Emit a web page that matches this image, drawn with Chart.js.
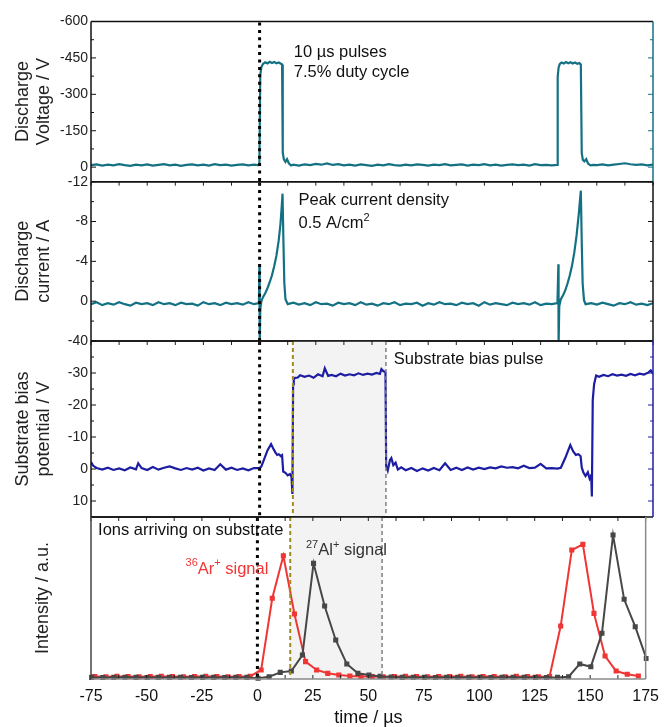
<!DOCTYPE html>
<html>
<head>
<meta charset="utf-8">
<script src="https://cdn.jsdelivr.net/npm/chart.js@4.4.0/dist/chart.umd.min.js"></script>
<style>
  body { margin: 0; background: #fff; }
  #wrap { position: relative; width: 667px; height: 727px; }
  #wrap canvas { position: absolute; left: 0; top: 0; }
</style>
</head>
<body>
<div id="wrap">
  <canvas id="c1" width="667" height="727"></canvas>
  <canvas id="c2" width="667" height="727"></canvas>
  <canvas id="c3" width="667" height="727"></canvas>
  <canvas id="c4" width="667" height="727"></canvas>
</div>
<script>
// ---- data ----
// shared time axis (µs)
var xMajor = [-75, -50, -25, 0, 25, 50, 75, 100, 125, 150, 175];
var xMinor = [-62.5, -37.5, -12.5, 12.5, 37.5, 62.5, 87.5, 112.5, 137.5, 162.5];

// pulse start and substrate bias window
var pulseStart = 0;
var biasOn = 14.8;
var biasOff = 56.2;

// panel 1 : discharge voltage
var vTicks = [-600, -450, -300, -150, 0];
var vMinor = [-525, -375, -225, -75];
var vTime = [-75,-72.5,-70,-67.5,-65,-62.5,-60,-57.5,-55,-52.5,-50,-47.5,-45,-42.5,-40,-37.5,-35,-32.5,-30,-27.5,-25,-22.5,-20,-17.5,-15,-12.5,-10,-7.5,-5,-2.5,-0.5,
  -0.1,0.3,0.8,1.5,2.5,3.5,4.5,5.5,6.5,7.5,8.5,9.5,10.0,10.3,10.8,11.5,12.2,13,14,15,
  17.5,20,22.5,25,27.5,30,32.5,35,37.5,40,42.5,45,47.5,50,52.5,55,57.5,60,62.5,65,67.5,70,72.5,75,77.5,80,82.5,85,87.5,90,92.5,95,97.5,100,102.5,105,107.5,110,112.5,115,117.5,120,122.5,125,127.5,130,132.3,
  132.6,133.0,133.5,134.3,135.3,136.3,137.3,138.3,139.3,140.3,141.3,142.3,142.9,143.3,143.8,144.5,145.3,146.1,147.2,148.5,
  150,152.5,155,157.5,160,162.5,165,167.5,170,172.5,175];
var vVolt = [-8,-11,-6,-10,-7,-12,-8,-5,-10,-7,-11,-6,-9,-12,-7,-10,-5,-9,-11,-7,-10,-6,-12,-8,-10,-6,-9,-11,-7,-10,-8,
  -9,-380,-412,-425,-432,-427,-434,-429,-433,-428,-431,-426,-423,-60,-32,-22,-33,-16,-7,-10,
  -6,-11,-8,-13,-10,-15,-9,-12,-7,-10,-6,-11,-8,-5,-10,-7,-12,-8,-6,-10,-7,-11,-9,-6,-10,-8,-12,-7,-9,-11,-6,-10,-8,-12,-7,-10,-6,-9,-11,-8,-10,-6,-12,-8,-9,-7,-9,
  -372,-410,-424,-431,-427,-433,-428,-432,-427,-431,-426,-429,-422,-58,-30,-24,-33,-15,-7,-9,
  -8,-11,-7,-10,-13,-16,-12,-9,-11,-7,-10];

// panel 2 : discharge current
var cTicks = [-12, -8, -4, 0];
var cMinor = [-10, -6, -2, 2];
var cTime = [-75,-72.5,-70,-67.5,-65,-62.5,-60,-57.5,-55,-52.5,-50,-47.5,-45,-42.5,-40,-37.5,-35,-32.5,-30,-27.5,-25,-22.5,-20,-17.5,-15,-12.5,-10,-7.5,-5,-2.5,-0.3,
  -0.1,0.05,0.3,0.8,1.5,2.5,3.5,4.5,5.5,6.5,7.5,8.5,9.3,9.9,10.2,10.6,11.0,11.5,12.5,15,
  17.5,20,22.5,25,27.5,30,32.5,35,37.5,40,42.5,45,47.5,50,52.5,55,57.5,60,62.5,65,67.5,70,72.5,75,77.5,80,82.5,85,87.5,90,92.5,95,97.5,100,102.5,105,107.5,110,112.5,115,117.5,120,122.5,125,127.5,130,132.5,
  132.9,133.0,133.3,134,135,136,137,138,139,140,141,142,142.9,143.3,143.7,144.3,145,147.5,
  150,152.5,155,157.5,160,162.5,165,167.5,170,172.5,175];
var cAmp = [0.3,0.1,0.4,0.2,0.35,0.1,0.3,0.45,0.15,0.3,0.2,0.4,0.1,0.3,0.2,0.4,0.15,0.3,0.25,0.45,0.1,0.3,0.2,0.4,0.15,0.3,0.2,0.35,0.1,0.3,0.2,
  -3.6,4.5,0.8,0.0,-0.4,-0.8,-1.3,-1.9,-2.6,-3.5,-4.6,-6.1,-7.8,-9.7,-10.8,-6.0,-1.8,-0.2,0.3,0.15,
  0.35,0.2,0.4,0.1,0.3,0.25,0.45,0.15,0.3,0.2,0.4,0.1,0.35,0.25,0.45,0.2,0.3,0.1,0.4,0.25,0.3,0.15,0.45,0.2,0.35,0.1,0.3,0.25,0.4,0.15,0.3,0.2,0.45,0.1,0.35,0.2,0.3,0.4,0.15,0.3,0.2,0.35,0.1,0.4,0.25,0.3,0.2,
  -3.7,4.5,0.5,-0.2,-0.6,-1.1,-1.8,-2.6,-3.6,-4.9,-6.6,-8.8,-11.1,-6.0,-1.8,-0.1,0.3,0.2,
  0.35,0.15,0.3,0.45,0.2,0.3,0.1,0.35,0.25,0.4,0.2];

// panel 3 : substrate bias potential
var bTicks = [-40, -30, -20, -10, 0, 10];
var bMinor = [-35, -25, -15, -5, 5];
var bTime = [-75,-74,-72.5,-70,-67.5,-65,-62.5,-60,-57.5,-55,-54,-52.5,-50,-47.5,-45,-42.5,-40,-37.5,-35,-32.5,-30,-27.5,-25,-22.5,-20,-17.5,-15,-12.5,-10,-7.5,-5,-2.5,0,
  0.8,2,3.5,5.1,6,7,7.8,8.5,9.5,10,10.5,11.5,12.5,13.5,14.2,14.6,14.9,15.2,15.8,17,18,20,22,24,26,28,29,30.5,32,34,36,38,40,42,44,46,48,50,52,53.5,54.2,55,56,
  56.3,57,58,58.6,59.5,60.5,61.5,63,65,67.5,70,72.5,75,77.5,80,82.5,85,87.5,90,92.5,95,97.5,100,102.5,105,107.5,110,112.5,115,117.5,120,122.5,125,127.5,130,132.5,134,
  136,138.2,139.5,140.7,141.8,142.8,143.3,144,145,146,146.8,147.5,147.8,148.2,148.8,149.7,151,153,155,157,159,161,163,165,167,169,171,173,174,175];
var bVolt = [-2.2,-1.0,-0.3,0.2,-0.4,0.3,-0.2,0.4,-0.5,0.1,-1.8,-0.3,0.3,-0.6,0.2,-0.4,-0.8,-0.2,0.3,-0.3,0.2,-0.4,0.5,-0.2,0.3,-1.5,0.2,-0.4,0.3,-0.2,0.4,-0.3,-0.3,
  -0.8,-3.0,-5.8,-7.8,-6.5,-5.2,-4.4,-4.6,-4.0,-4.3,0.8,1.2,2.0,1.6,2.5,7.8,-26.5,-28.0,-28.5,-28.6,-29.3,-28.8,-29.2,-28.5,-29.6,-29.0,-31.5,-29.1,-29.4,-29.0,-29.8,-29.2,-29.6,-29.3,-29.9,-29.4,-29.8,-29.5,-30.0,-29.7,-31.2,-30.6,-30.2,
  -1.0,0.5,-2.8,-3.4,-1.2,-2.0,0.2,-0.5,0.4,-0.3,0.6,-0.2,0.5,-0.3,0.4,-1.8,0.3,-0.4,0.3,-0.5,0.2,-0.4,0.0,-0.5,-0.2,-0.8,-0.4,-0.6,-0.2,-1.0,-0.3,-0.4,-1.6,-0.2,-0.3,-0.1,-0.4,
  -3.5,-7.5,-5.5,-4.4,-4.6,-4.0,-0.5,1.0,2.2,1.0,3.0,2.0,8.6,-21.6,-26.5,-29.2,-28.8,-29.4,-29.0,-29.6,-29.2,-29.5,-29.1,-29.7,-29.3,-29.8,-29.5,-30.2,-30.8,-29.8];

// panel 4 : ion signals (a.u.)
var arTime = [-73.3,-68.3,-63.3,-58.3,-53.3,-48.3,-43.3,-38.3,-33.3,-28.3,-23.3,-18.3,-13.3,-8.3,-3.3,
  1.7,6.7,11.7,16.7,21.7,26.7,31.7,36.7,41.7,46.7,
  51.7,56.7,61.7,66.7,71.7,76.7,81.7,86.7,91.7,96.7,101.7,106.7,111.7,116.7,121.7,126.7,131.7,
  136.7,141.7,146.7,151.7,156.7,161.7,166.7,171.7];
var arSignal = [1.5,1.4,1.6,1.5,1.4,1.5,1.6,1.5,1.4,1.5,1.6,1.5,1.4,1.5,1.6,
  5.6,49.8,76.1,40.1,10.7,5.6,3.5,2.5,1.9,1.6,
  1.5,1.4,1.5,1.6,1.5,1.4,1.5,1.5,1.6,1.4,1.5,1.5,1.4,1.6,1.5,1.4,1.5,
  32.7,79.6,83.1,40.5,14.2,4.9,2.9,1.9];
var alTime = [-74.7,-69.7,-64.7,-59.7,-54.7,-49.7,-44.7,-39.7,-34.7,-29.7,-24.7,-19.7,-14.7,-9.7,-4.7,
  0.3,5.3,10.3,15.3,20.3,25.3,30.3,35.3,40.3,45.3,50.3,55.3,
  60.3,65.3,70.3,75.3,80.3,85.3,90.3,95.3,100.3,105.3,110.3,115.3,120.3,125.3,130.3,135.3,
  140.3,145.3,150.3,155.3,160.3,165.3,170.3,175.3];
var alSignal = [1.0,0.9,1.0,1.1,1.0,0.9,1.0,1.0,1.1,0.9,1.0,1.0,0.9,1.0,1.0,
  0.5,1.4,4.1,4.9,14.8,71.4,45.1,24.1,9.3,3.5,2.5,1.6,
  1.2,1.0,1.1,1.0,0.9,1.0,1.1,1.0,1.0,0.9,1.0,1.1,1.0,1.0,0.9,1.0,
  1.4,9.3,7.6,28.2,88.9,49.2,32.3,12.7];

// ---- look ----
var FONT = "'Liberation Sans', Arial, Helvetica, sans-serif";
var TEAL = '#137183';
var BLUE = '#1d1da3';
var RED = '#f03535';
var GREY = '#474747';

function pts(xs, ys) {
  var out = [];
  for (var i = 0; i < xs.length; i++) out.push({ x: xs[i], y: ys[i] });
  return out;
}

function line(ctx, x1, y1, x2, y2) {
  ctx.beginPath(); ctx.moveTo(x1, y1); ctx.lineTo(x2, y2); ctx.stroke();
}

// box round each panel with inward ticks
var framePlugin = {
  id: 'frame',
  afterDraw: function(chart, args, o) {
    var ctx = chart.ctx, a = chart.chartArea, sx = chart.scales.x, sy = chart.scales.y;
    ctx.save();
    ctx.lineWidth = 1;
    ctx.strokeStyle = '#222';
    xMajor.concat(xMinor).forEach(function(v) {
      var px = sx.getPixelForValue(v);
      if (o.topTicks) line(ctx, px, a.top, px, a.top + 4);
      if (o.bottomTicks) line(ctx, px, a.bottom, px, a.bottom - 4);
    });
    [[o.yMajor, 5], [o.yMinor, 3]].forEach(function(set) {
      set[0].forEach(function(v) {
        var py = sy.getPixelForValue(v);
        ctx.strokeStyle = o.leftColor;
        line(ctx, a.left, py, a.left + set[1], py);
        ctx.strokeStyle = o.rightColor;
        line(ctx, a.right, py, a.right - set[1], py);
      });
    });
    ctx.lineWidth = 1.5;
    ctx.strokeStyle = '#111';
    line(ctx, a.left, a.top, a.right, a.top);
    ctx.strokeStyle = o.bottomColor;
    line(ctx, a.left, a.bottom, a.right, a.bottom);
    ctx.strokeStyle = o.leftColor;
    line(ctx, a.left, a.top, a.left, a.bottom);
    ctx.strokeStyle = o.rightColor;
    line(ctx, a.right, a.top, a.right, a.bottom);
    ctx.restore();
  }
};

// pulse start line, bias window shading and its edges
var markPlugin = {
  id: 'marks',
  beforeDatasetsDraw: function(chart, args, o) {
    if (!o.shade) return;
    var ctx = chart.ctx, a = chart.chartArea, sx = chart.scales.x;
    var x1 = sx.getPixelForValue(biasOn), x2 = sx.getPixelForValue(biasOff);
    ctx.save();
    ctx.fillStyle = '#f3f3f3';
    ctx.fillRect(x1, a.top, x2 - x1, a.bottom - a.top);
    ctx.restore();
  },
  afterDatasetsDraw: function(chart, args, o) {
    var ctx = chart.ctx, a = chart.chartArea, sx = chart.scales.x;
    ctx.save();
    if (o.shade) {
      ctx.setLineDash([4, 3]);
      ctx.lineWidth = 2;
      ctx.strokeStyle = '#a08c1e';
      var x1 = sx.getPixelForValue(biasOn);
      line(ctx, x1, a.top, x1, a.bottom);
      ctx.lineWidth = 1.5;
      ctx.strokeStyle = '#808080';
      var x2 = sx.getPixelForValue(biasOff);
      line(ctx, x2, a.top, x2, a.bottom);
    }
    ctx.setLineDash([3, 4.4]);
    ctx.lineWidth = 3;
    ctx.strokeStyle = '#000';
    var x0 = sx.getPixelForValue(pulseStart);
    line(ctx, x0, a.top + 1, x0, a.bottom);
    ctx.restore();
  }
};

// text notes, with superscripts
var notePlugin = {
  id: 'notes',
  afterDraw: function(chart, args, o) {
    var ctx = chart.ctx, sx = chart.scales.x, sy = chart.scales.y;
    ctx.save();
    ctx.textBaseline = 'middle';
    ctx.textAlign = 'left';
    (o.items || []).forEach(function(n) {
      var x = sx.getPixelForValue(n.x), y = sy.getPixelForValue(n.y);
      ctx.fillStyle = n.color || '#111';
      n.parts.forEach(function(p) {
        var sup = p[1] === true;
        ctx.font = (sup ? '11px ' : '16.5px ') + FONT;
        ctx.fillText(p[0], x, sup ? y - 6 : y);
        x += ctx.measureText(p[0]).width;
      });
    });
    ctx.restore();
  }
};

function makePanel(id, top, bottom, yMin, yMax, reverse, yTicks, yMinor, yTitle, titlePad, datasets, frame, notes, shade, last) {
  var xAxis = { type: 'linear', min: -75, max: 175, display: false };
  if (last) {
    xAxis = {
      type: 'linear', min: -75, max: 175,
      afterBuildTicks: function(axis) { axis.ticks = xMajor.map(function(v) { return { value: v }; }); },
      afterFit: function(axis) { axis.height = 727 - bottom; },
      grid: { display: false, drawTicks: false },
      border: { display: false },
      ticks: { font: { family: FONT, size: 16 }, color: '#111', padding: 8, maxRotation: 0, autoSkip: false },
      title: { display: true, text: 'time / µs', font: { family: FONT, size: 18, lineHeight: 1 }, color: '#111', padding: { top: 0, bottom: 0 } }
    };
  }
  new Chart(document.getElementById(id), {
    type: 'line',
    data: { datasets: datasets },
    options: {
      responsive: false,
      animation: false,
      devicePixelRatio: 1,
      layout: { padding: { top: top, bottom: last ? 0 : 727 - bottom, left: 0, right: 14 } },
      plugins: {
        legend: { display: false },
        tooltip: { enabled: false },
        frame: frame,
        marks: { shade: shade },
        notes: { items: notes }
      },
      scales: {
        x: xAxis,
        y: {
          type: 'linear', min: yMin, max: yMax, reverse: reverse,
          afterBuildTicks: function(axis) { axis.ticks = yTicks.map(function(v) { return { value: v }; }); },
          afterFit: function(axis) { axis.width = 91; },
          grid: { display: false, drawTicks: false },
          border: { display: false },
          ticks: { display: yTicks.length > 0, font: { family: FONT, size: 14 }, color: '#222', padding: 3 },
          title: { display: true, text: yTitle, font: { family: FONT, size: 18 }, color: '#222', padding: { top: titlePad, bottom: 0 } }
        }
      }
    },
    plugins: [framePlugin, markPlugin, notePlugin]
  });
}

function trace(xs, ys, color) {
  return { data: pts(xs, ys), borderColor: color, borderWidth: 2.2, pointRadius: 0, tension: 0, fill: false, clip: 0 };
}
function signal(xs, ys, color) {
  return { data: pts(xs, ys), borderColor: color, backgroundColor: color, borderWidth: 2, pointStyle: 'rect',
    pointRadius: 3.6, pointBorderWidth: 0, tension: 0, fill: false, clip: 3 };
}

// panel 1
makePanel('c1', 21.5, 181.7, -600, 60, true, vTicks, vMinor, ['Discharge', 'Voltage / V'], 12,
  [trace(vTime, vVolt, TEAL)],
  { topTicks: false, bottomTicks: false, yMajor: vTicks, yMinor: vMinor, leftColor: '#111', rightColor: TEAL, bottomColor: '#111' },
  [{ x: 15.2, y: -471, parts: [['10 µs pulses']] }, { x: 15.2, y: -389, parts: [['7.5% duty cycle']] }],
  false, false);

// panel 2
makePanel('c2', 181.7, 341, -12, 4, true, cTicks, cMinor, ['Discharge', 'current / A'], 12,
  [trace(cTime, cAmp, TEAL)],
  { topTicks: true, bottomTicks: false, yMajor: cTicks, yMinor: cMinor, leftColor: '#111', rightColor: '#111', bottomColor: '#111' },
  [{ x: 17.3, y: -10.1, parts: [['Peak current density']] }, { x: 17.3, y: -7.8, parts: [['0.5 A/cm'], ['2', true]] }],
  false, false);

// panel 3
makePanel('c3', 341, 517, -40, 15, true, bTicks, bMinor, ['Substrate bias', 'potential / V'], 12,
  [trace(bTime, bVolt, BLUE)],
  { topTicks: true, bottomTicks: false, yMajor: bTicks, yMinor: bMinor, leftColor: '#111', rightColor: BLUE, bottomColor: '#111' },
  [{ x: 59.7, y: -34.1, parts: [['Substrate bias pulse']] }],
  true, false);

// panel 4
makePanel('c4', 517, 679, 0, 100, false, [], [], 'Intensity / a.u.', 32,
  [signal(alTime, alSignal, GREY), signal(arTime, arSignal, RED)],
  { topTicks: true, bottomTicks: true, yMajor: [], yMinor: [], leftColor: '#444', rightColor: '#8a8a8a', bottomColor: '#8a8a8a' },
  [{ x: -71.8, y: 91.5, parts: [['Ions arriving on substrate']] },
   { x: -32.4, y: 67.7, color: RED, parts: [['36', true], ['Ar'], ['+', true], [' signal']] },
   { x: 21.9, y: 79.2, color: '#333', parts: [['27', true], ['Al'], ['+', true], [' signal']] }],
  true, true);
</script>
</body>
</html>
